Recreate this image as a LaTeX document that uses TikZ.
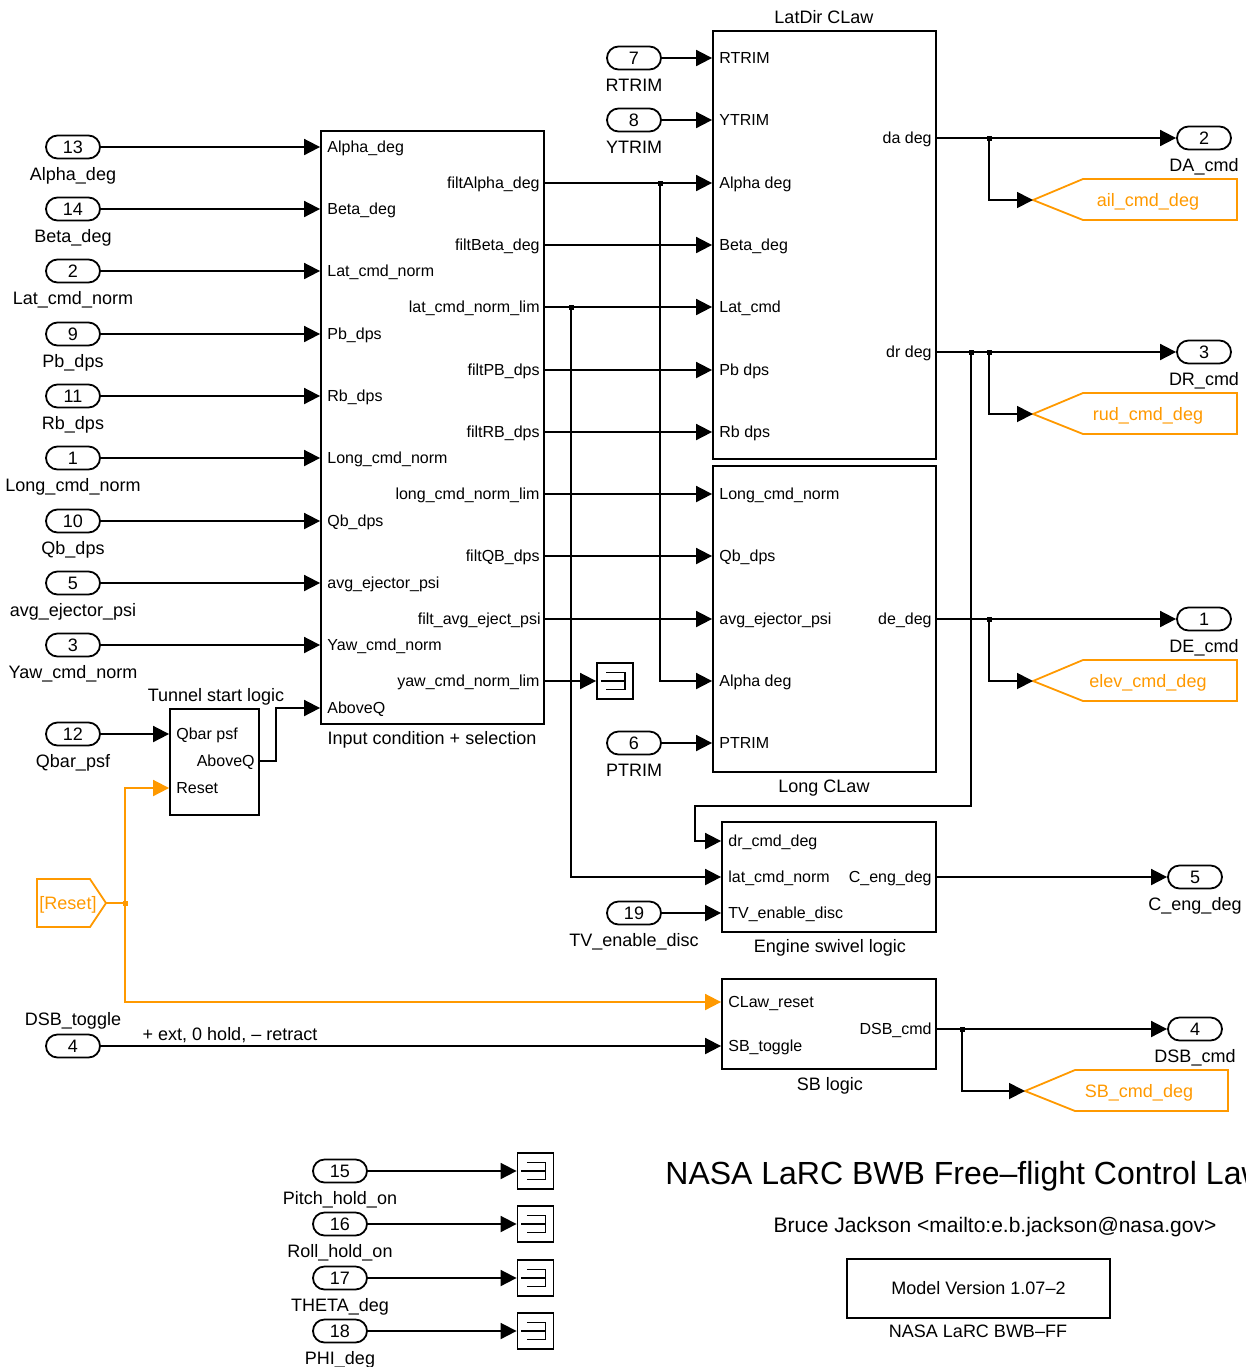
\documentclass[tikz,border=0pt]{standalone}
\usepackage{fontspec}
\setmainfont{Liberation Sans}
\usetikzlibrary{arrows.meta,positioning}
\definecolor{gotoorange}{RGB}{255,153,0}
\tikzset{
  sig/.style={-{Triangle[length=8pt,width=8pt]},line width=0.9pt},
  osig/.style={sig,color=gotoorange},
  port/.style={draw,line width=0.9pt,rounded corners=5.75pt,minimum width=27pt,minimum height=11.5pt,
    inner sep=0pt,font=\fontsize{9}{10}\selectfont},
  plbl/.style={inner sep=0pt,font=\fontsize{9}{10}\selectfont,text height=6.45pt,text depth=0pt},
  lblb/.style={plbl,yshift=-4pt},
  lbla/.style={plbl,yshift=4pt},
  blk/.style={draw,line width=0.9pt,inner sep=0pt},
  pin/.style={anchor=west,inner sep=0pt,font=\fontsize{8}{9}\selectfont,text height=5.8pt,text depth=0pt},
  pout/.style={pin,anchor=east},
  ttl/.style={inner sep=0pt,font=\fontsize{9}{10}\selectfont,text height=6.45pt,text depth=0pt},
  dot/.style={fill,inner sep=0pt,minimum size=2.5pt},
  term/.style={draw,line width=0.9pt,minimum size=18pt,inner sep=0pt,
    path picture={\draw[line width=0.7pt] (path picture bounding box.center) ++(-4.3pt,4.2pt) -- ++(9.2pt,0pt) -- ++(0pt,-8.4pt) -- ++(-9.2pt,0pt)
      (path picture bounding box.center) ++(-7.1pt,0pt) -- ++(12pt,0pt);}},
  gototag/.style={draw=gotoorange,line width=0.9pt},
  gtxt/.style={inner sep=0pt,text=gotoorange,font=\fontsize{9}{10}\selectfont,text height=6.45pt,text depth=0pt},
}
\begin{document}
\begin{tikzpicture}[x=0.5pt,y=-0.5pt]
  \useasboundingbox (0,0) rectangle (1246,1367);
  \clip (0,0) rectangle (1246,1367);

  % subsystem blocks
  \node[blk,minimum width=111.5pt,minimum height=296.5pt] (ics) at (432.5,427.5) {};
  \node[ttl] (icsT) at (432,738) {Input condition + selection};
  \node[blk,minimum width=111.5pt,minimum height=214pt] (latdir) at (824.5,245) {};
  \node[ttl] (latdirT) at (824,17) {LatDir CLaw};
  \node[blk,minimum width=111.5pt,minimum height=153pt] (long) at (824.5,619) {};
  \node[ttl] (longT) at (824,786) {Long CLaw};
  \node[blk,minimum width=44.5pt,minimum height=53pt] (tunnel) at (214.5,762) {};
  \node[ttl] (tunnelT) at (216,695) {Tunnel start logic};
  \node[blk,minimum width=107pt,minimum height=55pt] (eng) at (829,877) {};
  \node[ttl] (engT) at (830,946) {Engine swivel logic};
  \node[blk,minimum width=107pt,minimum height=45pt] (sb) at (829,1024) {};
  \node[ttl] (sbT) at (830,1084) {SB logic};

  % port texts, Input condition + selection
  \node[pin] (iAlpha) at (327,147) {Alpha\_deg};
  \node[pin] (iBeta) at (327,209) {Beta\_deg};
  \node[pin] (iLat) at (327,271) {Lat\_cmd\_norm};
  \node[pin] (iPb) at (327,334) {Pb\_dps};
  \node[pin] (iRb) at (327,396) {Rb\_dps};
  \node[pin] (iLong) at (327,458) {Long\_cmd\_norm};
  \node[pin] (iQb) at (327,521) {Qb\_dps};
  \node[pin] (iEject) at (327,583) {avg\_ejector\_psi};
  \node[pin] (iYaw) at (327,645) {Yaw\_cmd\_norm};
  \node[pin] (iAbove) at (327,708) {AboveQ};
  \node[pout] (oAlpha) at (540,183) {filtAlpha\_deg};
  \node[pout] (oBeta) at (540,245) {filtBeta\_deg};
  \node[pout] (oLat) at (540,307) {lat\_cmd\_norm\_lim};
  \node[pout] (oPb) at (540,370) {filtPB\_dps};
  \node[pout] (oRb) at (540,432) {filtRB\_dps};
  \node[pout] (oLong) at (540,494) {long\_cmd\_norm\_lim};
  \node[pout] (oQb) at (540,556) {filtQB\_dps};
  \node[pout] (oEject) at (541,619) {filt\_avg\_eject\_psi};
  \node[pout] (oYaw) at (540,681) {yaw\_cmd\_norm\_lim};

  % port texts, LatDir CLaw
  \node[pin] (ldR) at (719,58) {RTRIM};
  \node[pin] (ldY) at (719,120) {YTRIM};
  \node[pin] (ldAlpha) at (719,183) {Alpha deg};
  \node[pin] (ldBeta) at (719,245) {Beta\_deg};
  \node[pin] (ldLat) at (719,307) {Lat\_cmd};
  \node[pin] (ldPb) at (719,370) {Pb dps};
  \node[pin] (ldRb) at (719,432) {Rb dps};
  \node[pout] (ldDa) at (932,138) {da deg};
  \node[pout] (ldDr) at (932,352) {dr deg};

  % port texts, Long CLaw
  \node[pin] (lgLong) at (719,494) {Long\_cmd\_norm};
  \node[pin] (lgQb) at (719,556) {Qb\_dps};
  \node[pin] (lgEject) at (719,619) {avg\_ejector\_psi};
  \node[pin] (lgAlpha) at (719,681) {Alpha deg};
  \node[pin] (lgP) at (719,743) {PTRIM};
  \node[pout] (lgDe) at (932,619) {de\_deg};

  % port texts, tunnel, engine, SB
  \node[pin] (tnQ) at (176,734) {Qbar psf};
  \node[pin] (tnRst) at (176,788) {Reset};
  \node[pout] (tnAbove) at (255,761) {AboveQ};
  \node[pin] (egDr) at (728,841) {dr\_cmd\_deg};
  \node[pin] (egLat) at (728,877) {lat\_cmd\_norm};
  \node[pin] (egTv) at (728,913) {TV\_enable\_disc};
  \node[pout] (egC) at (932,877) {C\_eng\_deg};
  \node[pin] (sbRst) at (728,1002) {CLaw\_reset};
  \node[pin] (sbTog) at (728,1046) {SB\_toggle};
  \node[pout] (sbDsb) at (932,1029) {DSB\_cmd};

  % inports
  \node[port,label={[lblb]below:Alpha\_deg}] (in13) at (73,147) {13};
  \node[port,label={[lblb]below:Beta\_deg}] (in14) at (73,209) {14};
  \node[port,label={[lblb]below:Lat\_cmd\_norm}] (in2) at (73,271) {2};
  \node[port,label={[lblb]below:Pb\_dps}] (in9) at (73,334) {9};
  \node[port,label={[lblb]below:Rb\_dps}] (in11) at (73,396) {11};
  \node[port,label={[lblb]below:Long\_cmd\_norm}] (in1) at (73,458) {1};
  \node[port,label={[lblb]below:Qb\_dps}] (in10) at (73,521) {10};
  \node[port,label={[lblb]below:avg\_ejector\_psi}] (in5) at (73,583) {5};
  \node[port,label={[lblb]below:Yaw\_cmd\_norm}] (in3) at (73,645) {3};
  \node[port,label={[lblb]below:Qbar\_psf}] (in12) at (73,734) {12};
  \node[port,label={[lbla]above:DSB\_toggle}] (in4) at (73,1046) {4};
  \node[port,label={[lblb]below:RTRIM}] (in7) at (634,58) {7};
  \node[port,label={[lblb]below:YTRIM}] (in8) at (634,120) {8};
  \node[port,label={[lblb]below:PTRIM}] (in6) at (634,743) {6};
  \node[port,label={[lblb]below:TV\_enable\_disc}] (in19) at (634,913) {19};
  \node[port,label={[lblb]below:Pitch\_hold\_on}] (in15) at (340,1171) {15};
  \node[port,label={[lblb]below:Roll\_hold\_on}] (in16) at (340,1224) {16};
  \node[port,label={[lblb]below:THETA\_deg}] (in17) at (340,1278) {17};
  \node[port,label={[lblb]below:PHI\_deg}] (in18) at (340,1331) {18};

  % outports
  \node[port,label={[lblb]below:DA\_cmd}] (out2) at (1204,138) {2};
  \node[port,label={[lblb]below:DR\_cmd}] (out3) at (1204,352) {3};
  \node[port,label={[lblb]below:DE\_cmd}] (out1) at (1204,619) {1};
  \node[port,label={[lblb]below:C\_eng\_deg}] (out5) at (1195,877) {5};
  \node[port,label={[lblb]below:DSB\_cmd}] (out4) at (1195,1029) {4};

  % terminators
  \node[term] (tYaw) at (615,681) {};
  \node[term] (t15) at (535.5,1171) {};
  \node[term] (t16) at (535.5,1224) {};
  \node[term] (t17) at (535.5,1278) {};
  \node[term] (t18) at (535.5,1331) {};

  % goto / from tags
  \coordinate (gAil) at (1033,200);
  \draw[gototag] (gAil) -- (1083,179) -- (1237,179) -- (1237,220) -- (1083,220) -- cycle;
  \node[gtxt] (gAilT) at (1148,200) {ail\_cmd\_deg};
  \coordinate (gRud) at (1033,414);
  \draw[gototag] (gRud) -- (1083,393) -- (1237,393) -- (1237,434) -- (1083,434) -- cycle;
  \node[gtxt] (gRudT) at (1148,414) {rud\_cmd\_deg};
  \coordinate (gElev) at (1033,681);
  \draw[gototag] (gElev) -- (1083,660) -- (1237,660) -- (1237,701) -- (1083,701) -- cycle;
  \node[gtxt] (gElevT) at (1148,681) {elev\_cmd\_deg};
  \coordinate (gSb) at (1025,1091);
  \draw[gototag] (gSb) -- (1075,1070) -- (1228,1070) -- (1228,1111) -- (1075,1111) -- cycle;
  \node[gtxt] (gSbT) at (1139,1091) {SB\_cmd\_deg};
  \coordinate (fRst) at (106,903);
  \draw[gototag] (37,879) -- (90,879) -- (fRst) -- (90,927) -- (37,927) -- cycle;
  \node[gtxt] (fRstT) at (68,903) {[Reset]};

  % branch points
  \node[dot] (dAlpha) at (660,183) {};
  \node[dot] (dLat) at (571,307) {};
  \node[dot] (dDa) at (989,138) {};
  \node[dot] (dDr) at (989,352) {};
  \node[dot] (dDr2) at (971,352) {};
  \node[dot] (dDe) at (989,619) {};
  \node[dot] (dSb) at (962,1029) {};
  \node[dot,fill=gotoorange] (dRst) at (125,903) {};
  \coordinate (bDr) at (695,806);
  \coordinate (bAbove) at (276,708);

  % inputs into Input condition + selection
  \draw[sig] (in13) -- (in13 -| ics.west);
  \draw[sig] (in14) -- (in14 -| ics.west);
  \draw[sig] (in2) -- (in2 -| ics.west);
  \draw[sig] (in9) -- (in9 -| ics.west);
  \draw[sig] (in11) -- (in11 -| ics.west);
  \draw[sig] (in1) -- (in1 -| ics.west);
  \draw[sig] (in10) -- (in10 -| ics.west);
  \draw[sig] (in5) -- (in5 -| ics.west);
  \draw[sig] (in3) -- (in3 -| ics.west);
  \draw[sig] (in12) -- (in12 -| tunnel.west);
  \draw[sig] (tunnel.east |- tnAbove) -| (bAbove) -- (ics.west |- iAbove);

  % Input condition + selection to the control laws
  \draw[sig] (ics.east |- oAlpha) -- (latdir.west |- oAlpha);
  \draw[sig] (ics.east |- oBeta) -- (latdir.west |- oBeta);
  \draw[sig] (ics.east |- oLat) -- (latdir.west |- oLat);
  \draw[sig] (ics.east |- oPb) -- (latdir.west |- oPb);
  \draw[sig] (ics.east |- oRb) -- (latdir.west |- oRb);
  \draw[sig] (ics.east |- oLong) -- (long.west |- oLong);
  \draw[sig] (ics.east |- oQb) -- (long.west |- oQb);
  \draw[sig] (ics.east |- oEject) -- (long.west |- oEject);
  \draw[sig] (ics.east |- oYaw) -- (tYaw);
  \draw[sig] (dAlpha.center) |- (long.west |- lgAlpha);
  \draw[sig] (dLat.center) |- (eng.west |- egLat);
  \draw[sig] (in7) -- (in7 -| latdir.west);
  \draw[sig] (in8) -- (in8 -| latdir.west);
  \draw[sig] (in6) -- (in6 -| long.west);
  \draw[sig] (in19) -- (in19 -| eng.west);

  % control law outputs
  \draw[sig] (latdir.east |- ldDa) -- (out2);
  \draw[sig] (dDa.center) |- (gAil);
  \draw[sig] (latdir.east |- ldDr) -- (out3);
  \draw[sig] (dDr.center) |- (gRud);
  \draw[sig] (dDr2.center) |- (bDr) |- (eng.west |- egDr);
  \draw[sig] (long.east |- lgDe) -- (out1);
  \draw[sig] (dDe.center) |- (gElev);
  \draw[sig] (eng.east |- egC) -- (out5);
  \draw[sig] (sb.east |- sbDsb) -- (out4);
  \draw[sig] (dSb.center) |- (gSb);

  % reset and speedbrake
  \draw[line width=0.9pt,gotoorange] (fRst) -- (dRst.center);
  \draw[osig] (dRst.center) |- (tunnel.west |- tnRst);
  \draw[osig] (dRst.center) |- (sb.west |- sbRst);
  \draw[sig] (in4) -- (in4 -| sb.west);
  \node[plbl] (togT) at (230,1034) {+ ext, 0 hold, – retract};

  % unused inputs
  \draw[sig] (in15) -- (t15);
  \draw[sig] (in16) -- (t16);
  \draw[sig] (in17) -- (t17);
  \draw[sig] (in18) -- (t18);

  % annotation
  \node[anchor=west,inner sep=0pt,font=\fontsize{16}{18}\selectfont] (title) at (665,1176) {NASA LaRC BWB Free–flight Control Law};
  \node[inner sep=0pt,font=\fontsize{10.5}{12}\selectfont] (author) at (995,1227) {Bruce Jackson <mailto:e.b.jackson@nasa.gov>};
  \node[blk,minimum width=131.5pt,minimum height=29.5pt,font=\fontsize{9}{10}\selectfont] (version) at (978.5,1288.5) {Model Version 1.07–2};
  \node[ttl] (versionT) at (978,1331) {NASA LaRC BWB–FF};
\end{tikzpicture}
\end{document}
